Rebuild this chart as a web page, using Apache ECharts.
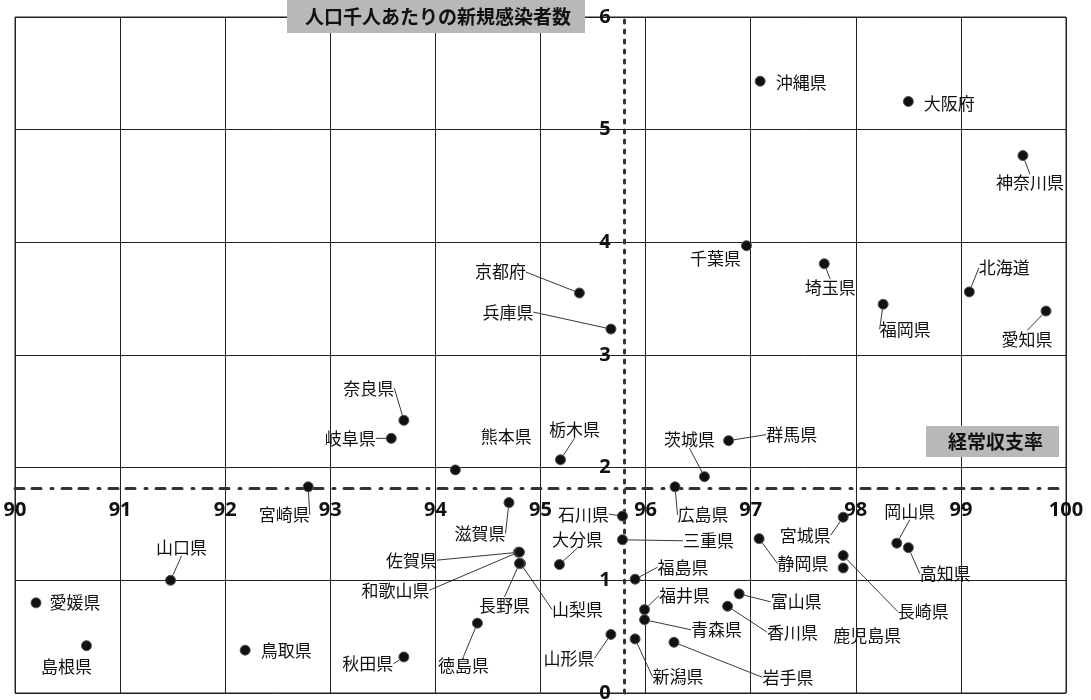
<!DOCTYPE html>
<html><head><meta charset="utf-8">
<script src="https://cdn.jsdelivr.net/npm/echarts@6/dist/echarts.min.js"></script>
<style>html,body{margin:0;padding:0;background:#fff}#chart{width:1091px;height:700px}</style>
</head><body><div id="chart"></div>
<script>
// ---- data ----
const prefectures = ['北海道','青森県','岩手県','宮城県','秋田県','山形県','福島県','茨城県','栃木県','群馬県','埼玉県','千葉県','神奈川県','新潟県','富山県','石川県','福井県','山梨県','長野県','岐阜県','静岡県','愛知県','三重県','滋賀県','京都府','大阪府','兵庫県','奈良県','和歌山県','鳥取県','島根県','岡山県','広島県','山口県','徳島県','香川県','愛媛県','高知県','福岡県','佐賀県','長崎県','熊本県','大分県','宮崎県','鹿児島県','沖縄県'];
// 経常収支率
const balanceRatio = [99.08,95.99,96.27,97.88,93.70,95.67,95.90,96.56,95.19,96.79,97.70,96.96,99.59,95.90,96.89,95.78,95.99,94.81,94.80,93.58,97.08,99.81,95.78,94.70,95.37,98.50,95.67,93.70,94.79,92.19,90.68,98.39,96.28,91.48,94.40,96.78,90.20,98.50,98.26,94.80,97.88,94.19,95.18,92.79,97.88,97.09];
// 人口千人あたりの新規感染者数
const newCases = [3.56,0.65,0.45,1.56,0.32,0.52,1.01,1.92,2.07,2.24,3.81,3.97,4.77,0.48,0.88,1.57,0.74,1.15,1.15,2.26,1.37,3.39,1.36,1.69,3.55,5.25,3.23,2.42,1.25,0.38,0.42,1.33,1.83,1.00,0.62,0.77,0.80,1.29,3.45,1.25,1.22,1.98,1.14,1.83,1.11,5.43];
const avgBalanceRatio = 95.8;
const avgNewCases = 1.82;
const xTicks = {min: 90, max: 100, step: 1};
const yTicks = {min: 0, max: 6, step: 1};
const xTitle = '経常収支率';
const yTitle = '人口千人あたりの新規感染者数';

// ---- layout ----
const W = 1091, H = 700;
const gridBox = {left: 15, right: 25, top: 17, bottom: 7};
const gridW = W - gridBox.left - gridBox.right;
const gridH = H - gridBox.top - gridBox.bottom;
// axes cross at the averages: shift label axes from the grid edges
const xAxisOffset = -(avgNewCases - yTicks.min) / (yTicks.max - yTicks.min) * gridH;
const yAxisOffset = -(avgBalanceRatio - xTicks.min) / (xTicks.max - xTicks.min) * gridW;

const labelOffsets = {
 '北海道':[35,-24],'青森県':[72,10],'岩手県':[114,35],'宮城県':[-38,18],'秋田県':[-36,7],'山形県':[-42,24],
 '福島県':[48,-12],'茨城県':[-15,-37],'栃木県':[14,-30],'群馬県':[63,-6],'埼玉県':[6,24],'千葉県':[-31,13],
 '神奈川県':[7,27],'新潟県':[43,38],'富山県':[57,8],'石川県':[-39,-2],'福井県':[40,-14],'山梨県':[57,46],
 '長野県':[-15,42],'岐阜県':[-41,0],'静岡県':[44,25],'愛知県':[-19,28],'三重県':[86,1],'滋賀県':[-29,31],
 '京都府':[-79,-21],'大阪府':[41,2],'兵庫県':[-103,-17],'奈良県':[-35,-32],'和歌山県':[-123,38],'鳥取県':[41,0],
 '島根県':[-20,21],'岡山県':[13,-32],'広島県':[28,28],'山口県':[11,-33],'徳島県':[-14,42],'香川県':[65,26],
 '愛媛県':[39,0],'高知県':[37,26],'福岡県':[22,25],'佐賀県':[-108,8],'長崎県':[80,56],'熊本県':[51,-33],
 '大分県':[18,-25],'宮崎県':[-24,28],'鹿児島県':[24,68],'沖縄県':[41,1]
};
const noLeader = ['沖縄県','大阪府','千葉県','熊本県','愛媛県','島根県','鳥取県','鹿児島県'];

const seriesData = prefectures.map((n, i) => ({
  name: n,
  value: [balanceRatio[i], newCases[i]],
  labelLine: {show: noLeader.indexOf(n) < 0}
}));

const tickFont = {fontSize: 20, fontWeight: 'bold', color: '#111', fontFamily: 'Noto Sans'};

const chart = echarts.init(document.getElementById('chart'));
chart.setOption({
  animation: false,
  backgroundColor: '#fff',
  title: [
    {text: yTitle, left: 287, top: 0, backgroundColor: '#b8b8b8', padding: [7, 14, 7, 18],
     textStyle: {fontSize: 19, fontWeight: 'bold', color: '#111', fontFamily: 'Noto Sans CJK JP'}},
    {text: xTitle, left: 926, top: 426, backgroundColor: '#b8b8b8', padding: [6, 16, 6, 22],
     textStyle: {fontSize: 19, fontWeight: 'bold', color: '#111', fontFamily: 'Noto Sans CJK JP'}}
  ],
  grid: {left: gridBox.left, right: gridBox.right, top: gridBox.top, bottom: gridBox.bottom,
         show: true, borderColor: '#222', borderWidth: 1, containLabel: false, outerBoundsMode: 'none'},
  xAxis: [
    {type: 'value', min: xTicks.min, max: xTicks.max, interval: xTicks.step,
     axisLine: {show: false}, axisTick: {show: false}, axisLabel: {show: false},
     splitLine: {show: true, lineStyle: {color: '#222', width: 1}}},
    {type: 'value', min: xTicks.min, max: xTicks.max, interval: xTicks.step, position: 'bottom', offset: xAxisOffset,
     axisLine: {show: true, onZero: false, lineStyle: {color: '#333', width: 3, type: [9, 8, 9, 10, 2, 9]}},
     axisTick: {show: false},
     axisLabel: Object.assign({margin: 12}, tickFont),
     splitLine: {show: false}}
  ],
  yAxis: [
    {type: 'value', min: yTicks.min, max: yTicks.max, interval: yTicks.step,
     axisLine: {show: false}, axisTick: {show: false}, axisLabel: {show: false},
     splitLine: {show: true, lineStyle: {color: '#222', width: 1}}},
    {type: 'value', min: yTicks.min, max: yTicks.max, interval: yTicks.step, position: 'left', offset: yAxisOffset,
     axisLine: {show: true, onZero: false, lineStyle: {color: '#333', width: 3, type: [3, 7]}},
     axisTick: {show: false},
     axisLabel: Object.assign({margin: 14}, tickFont),
     splitLine: {show: false}}
  ],
  series: [{
    type: 'scatter',
    xAxisIndex: 0, yAxisIndex: 0,
    symbol: 'circle', symbolSize: 10,
    itemStyle: {color: '#111', borderColor: '#555', borderWidth: 1, opacity: 1},
    label: {show: true, formatter: '{b}', position: 'inside', color: '#111', fontSize: 17,
            fontFamily: 'Noto Sans CJK JP', textBorderWidth: 0},
    labelLine: {show: true, length2: 0, lineStyle: {color: '#222', width: 0.9}},
    labelLayout: function (p) {
      const o = labelOffsets[prefectures[p.dataIndex]] || [0, 0];
      return {dx: o[0], dy: o[1]};
    },
    data: seriesData,
    z: 5
  }]
});
</script></body></html>
